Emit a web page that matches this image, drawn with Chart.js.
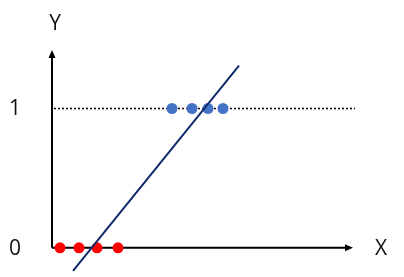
<!DOCTYPE html>
<html>
<head>
<meta charset="utf-8">
<script src="https://cdn.jsdelivr.net/npm/chart.js@4.4.1/dist/chart.umd.min.js"></script>
<style>
  html, body { margin: 0; padding: 0; background: #fff; }
  #wrap { width: 404px; height: 277px; }
</style>
</head>
<body>
<div id="wrap"><canvas id="chart"></canvas></div>
<script>
// data (x units: 0..15, y units: 0/1 classes)
const redX = [0.4, 1.35, 2.25, 3.3];
const redY = [0, 0, 0, 0];
const blueX = [6.0, 7.0, 7.8, 8.55];
const blueY = [1, 1, 1, 1];
const lineX = [1.05, 9.35];
const lineY = [-0.165, 1.307];
const thresholdX = [0.1, 15.15];
const thresholdY = [1, 1];
const yTickValues = [0, 1];
const yTickLabels = ["0", "1"];
const axisLabels = { x: "X", y: "Y" };

const toPoints = (xs, ys) => xs.map((x, i) => ({ x: x, y: ys[i] }));

const FONT = '21px "Open Sans", "Noto Sans", sans-serif';

// draws the arrowed axes, tick labels and axis names
const axesPlugin = {
  id: "axesPlugin",
  beforeDatasetsDraw(chart) {
    const { ctx, scales } = chart;
    const x0 = scales.x.getPixelForValue(0);
    const y0 = scales.y.getPixelForValue(0);
    const xEnd = scales.x.getPixelForValue(15.05);
    const yEnd = scales.y.getPixelForValue(1.42);
    ctx.save();
    ctx.strokeStyle = "#000";
    ctx.fillStyle = "#000";
    ctx.lineWidth = 2;
    ctx.beginPath();
    ctx.moveTo(x0, y0);
    ctx.lineTo(xEnd - 6, y0);
    ctx.moveTo(x0, y0);
    ctx.lineTo(x0, yEnd + 6);
    ctx.stroke();
    // arrow heads
    ctx.beginPath();
    ctx.moveTo(xEnd, y0);
    ctx.lineTo(xEnd - 8, y0 - 3.5);
    ctx.lineTo(xEnd - 8, y0 + 3.5);
    ctx.closePath();
    ctx.fill();
    ctx.beginPath();
    ctx.moveTo(x0, yEnd);
    ctx.lineTo(x0 - 3.5, yEnd + 8);
    ctx.lineTo(x0 + 3.5, yEnd + 8);
    ctx.closePath();
    ctx.fill();
    ctx.restore();
  },
  afterDraw(chart) {
    const { ctx, scales } = chart;
    ctx.save();
    ctx.fillStyle = "#111";
    ctx.font = FONT;
    ctx.textBaseline = "middle";
    ctx.textAlign = "center";
    yTickValues.forEach((v, i) => {
      ctx.fillText(yTickLabels[i], 15, scales.y.getPixelForValue(v) + 1);
    });
    ctx.fillText(axisLabels.y, scales.x.getPixelForValue(0) + 3, 24);
    ctx.fillText(axisLabels.x, 381, scales.y.getPixelForValue(0) + 1);
    ctx.restore();
  }
};

new Chart(document.getElementById("chart"), {
  type: "scatter",
  data: {
    datasets: [
      {
        label: "boundary",
        data: toPoints(lineX, lineY),
        showLine: true,
        borderColor: "#0F2A6B",
        borderWidth: 2,
        pointRadius: 0
      },
      {
        label: "class 0",
        data: toPoints(redX, redY),
        backgroundColor: "#FF0000",
        borderWidth: 0,
        pointRadius: 5.5
      },
      {
        label: "class 1",
        data: toPoints(blueX, blueY),
        backgroundColor: "#4472C4",
        borderWidth: 0,
        pointRadius: 5.5
      },
      {
        label: "y = 1",
        data: toPoints(thresholdX, thresholdY),
        showLine: true,
        borderColor: "#000",
        borderWidth: 1.5,
        borderDash: [2, 2],
        pointRadius: 0
      }
    ]
  },
  plugins: [axesPlugin],
  options: {
    responsive: true,
    maintainAspectRatio: false,
    animation: false,
    layout: { padding: { left: 52, right: 52, top: 50, bottom: 4 } },
    scales: {
      x: { type: "linear", min: 0, max: 15, display: false },
      y: { type: "linear", min: -0.17, max: 1.42, display: false }
    },
    plugins: {
      legend: { display: false },
      tooltip: { enabled: false }
    },
    clip: false
  }
});
</script>
</body>
</html>
